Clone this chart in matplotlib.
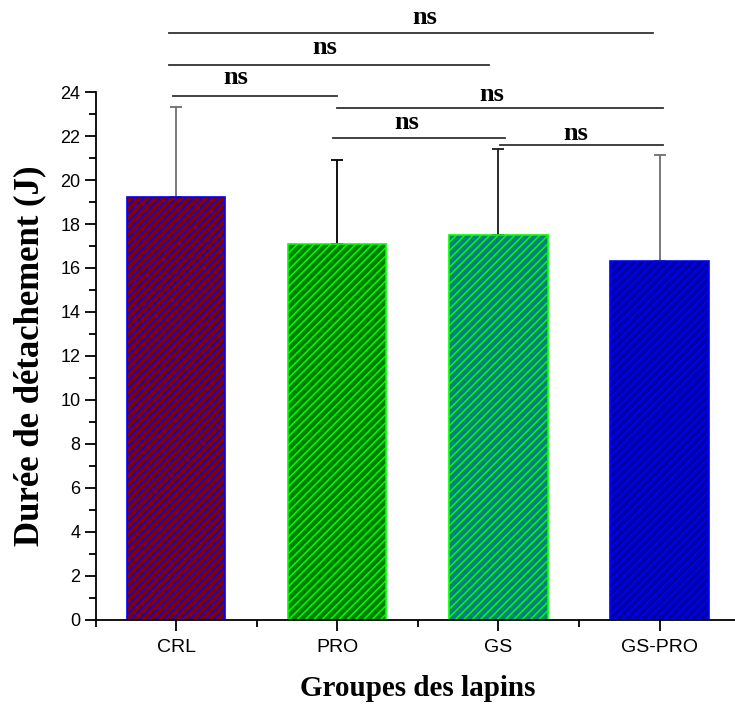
import matplotlib.pyplot as plt
import numpy as N
from matplotlib.ticker import MultipleLocator, FixedLocator

groups = ['CRL', 'PRO', 'GS', 'GS-PRO']
means = [19.24, 17.1, 17.49, 16.34]
sds = [4.11, 3.8, 3.93, 4.81]

face_colors = ['#800000', '#008000', '#008080', '#0000a8']
hatch_colors = ['#0000ff', '#00ff00', '#00ff00', '#0000ff']
err_colors = ['#6e6e6e', '#000000', '#1a1a1a', '#6e6e6e']

# pairwise comparisons: (start, end, line height, label x, label y)
comp_start = [0.957, 0.957, 0.98, 2.0, 1.975, 3.01]
comp_end = [3.96, 2.94, 2.0, 4.02, 3.04, 4.02]
comp_y = [26.7, 25.25, 23.84, 23.26, 21.93, 21.61]
label_x = [2.54, 1.92, 1.37, 2.96, 2.43, 3.48]
label_y = [27.4, 26.02, 24.65, 23.9, 22.62, 22.12]
comp_labels = ['ns', 'ns', 'ns', 'ns', 'ns', 'ns']

plt.rcParams['hatch.linewidth'] = 1.1

fig = plt.figure(figsize=(7.35, 7.04), dpi=100)
ax = fig.add_axes([0.130, 0.120, 0.877, 0.749])

x = N.arange(1, len(groups) + 1)
for i in range(len(groups)):
    ax.bar(x[i], means[i], width=0.61, color=face_colors[i],
           edgecolor=hatch_colors[i], linewidth=1.2, hatch='////', zorder=2)
    ax.errorbar(x[i], means[i], yerr=[[0], [sds[i]]], fmt='none',
                ecolor=err_colors[i], elinewidth=1.3, capsize=4.5,
                capthick=1.3, zorder=1)

for i in range(len(comp_y)):
    ax.plot([comp_start[i], comp_end[i]], [comp_y[i], comp_y[i]],
            color='#333333', lw=1.3, clip_on=False)
    ax.text(label_x[i], label_y[i], comp_labels[i], ha='center', va='center',
            fontsize=19, fontweight='bold', family='Liberation Serif')

ax.set_xlim(0.5, 4.5)
ax.set_ylim(0, 24)
ax.set_xticks(x)
ax.set_xticklabels(groups, family='Liberation Sans', fontsize=14)
ax.xaxis.set_minor_locator(FixedLocator([0.5, 1.5, 2.5, 3.5, 4.5]))
ax.yaxis.set_major_locator(MultipleLocator(2))
ax.yaxis.set_minor_locator(MultipleLocator(1))
for lab in ax.get_yticklabels():
    lab.set_family('Liberation Sans')
    lab.set_fontsize(13)

ax.tick_params(which='major', direction='out', length=8, width=1.3, pad=3)
ax.tick_params(which='minor', direction='out', length=5, width=1.3)
ax.tick_params(axis='x', which='major', pad=6)

for side in ['top', 'right']:
    ax.spines[side].set_visible(False)
for side in ['left', 'bottom']:
    ax.spines[side].set_linewidth(1.3)

ax.set_ylabel('Durée de détachement (J)', family='Liberation Serif',
              fontsize=25, fontweight='bold', labelpad=10)
ax.set_xlabel('Groupes des lapins', family='Liberation Serif',
              fontsize=21, fontweight='bold', labelpad=14)

plt.savefig('out.png', dpi=100)
